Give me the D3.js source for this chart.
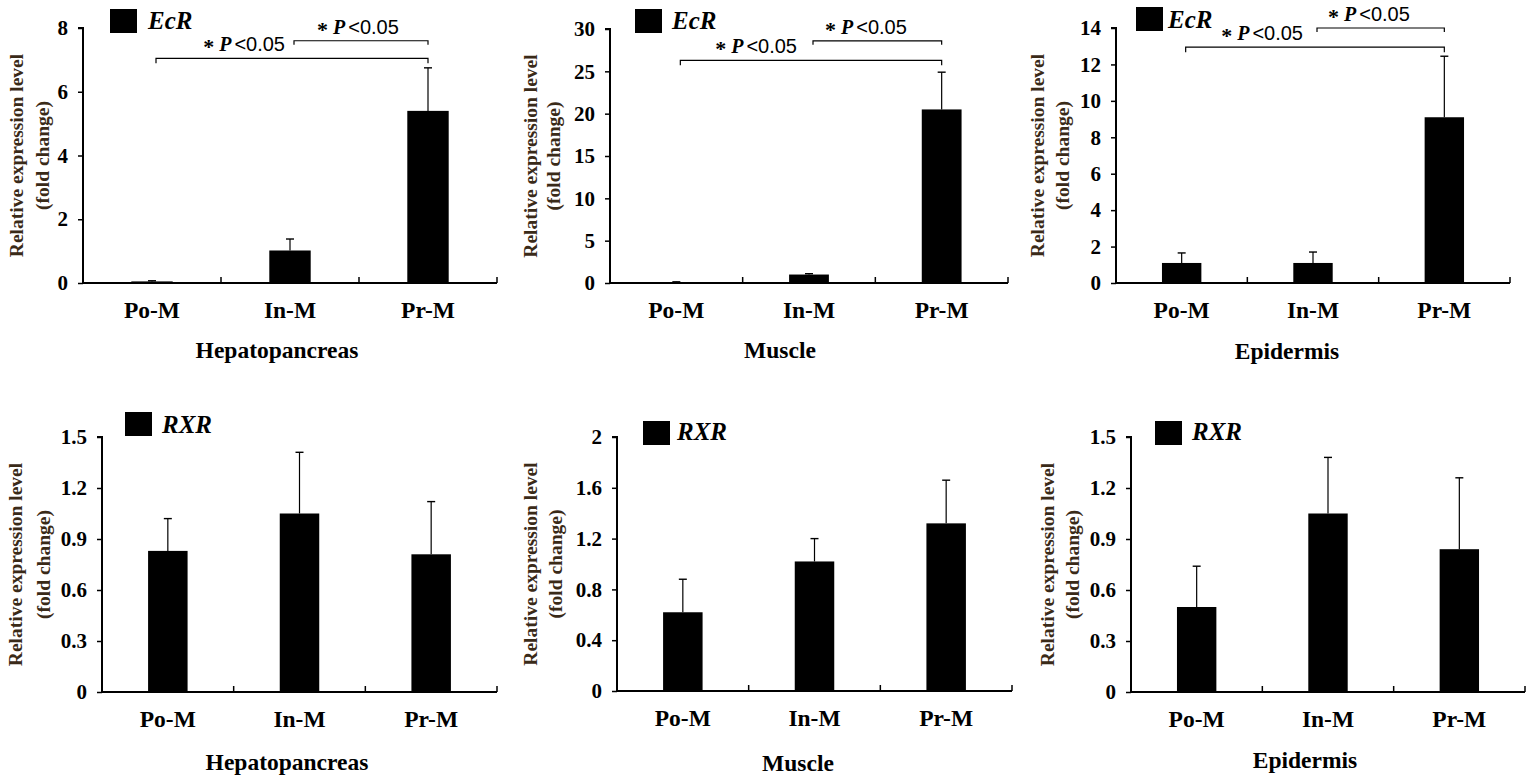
<!DOCTYPE html>
<html><head><meta charset="utf-8">
<script src="https://cdn.jsdelivr.net/npm/d3@7"></script>
<style>
html,body{margin:0;padding:0;background:#fff;}
svg{display:block;}
</style></head>
<body>
<svg id="chart" width="1535" height="784"></svg>
<script>
// ---------------- DATA ----------------
const categories = ["Po-M", "In-M", "Pr-M"];
const tissues = ["Hepatopancreas", "Muscle", "Epidermis"];
const genes = ["EcR", "RXR"];

const ecrHepatopancreas = [0.05, 1.02, 5.40];
const ecrHepatopancreasSD = [0.02, 0.36, 1.35];
const ecrMuscle = [0.10, 1.00, 20.5];
const ecrMuscleSD = [0.04, 0.10, 4.4];
const ecrEpidermis = [1.10, 1.10, 9.10];
const ecrEpidermisSD = [0.55, 0.60, 3.35];

const rxrHepatopancreas = [0.83, 1.05, 0.81];
const rxrHepatopancreasSD = [0.19, 0.36, 0.31];
const rxrMuscle = [0.62, 1.02, 1.32];
const rxrMuscleSD = [0.26, 0.18, 0.34];
const rxrEpidermis = [0.50, 1.05, 0.84];
const rxrEpidermisSD = [0.24, 0.33, 0.42];

const ticksEcrHep = [0, 2, 4, 6, 8];
const ticksEcrMus = [0, 5, 10, 15, 20, 25, 30];
const ticksEcrEpi = [0, 2, 4, 6, 8, 10, 12, 14];
const ticksRxrHep = [0, 0.3, 0.6, 0.9, 1.2, 1.5];
const ticksRxrMus = [0, 0.4, 0.8, 1.2, 1.6, 2];
const ticksRxrEpi = [0, 0.3, 0.6, 0.9, 1.2, 1.5];

// significance brackets (value level on y axis): long = Po-M vs Pr-M, short = In-M vs Pr-M
const ecrBracketLong = [7.05, 26.3, 12.95];
const ecrBracketShort = [7.6, 28.6, 14.0];
const sigStar = "*", sigP = "P", sigText = "<0.05";

const yTitle1 = "Relative expression level";
const yTitle2 = "(fold change)";

// ---------------- LAYOUT ----------------
const layout = [
  {x0: 83,  x1: 497,  yT: 28,  yB: 283, leg: [110, 9, 148, 29], yt: [16, 42],   xt: 277, xtY: 358},
  {x0: 610, x1: 1008, yT: 29,  yB: 283, leg: [635, 9, 672, 29], yt: [530, 553], xt: 780, xtY: 358},
  {x0: 1116,x1: 1510, yT: 28,  yB: 283, leg: [1136, 7, 1168, 28], yt: [1037, 1062], xt: 1287, xtY: 359},
  {x0: 102, x1: 497,  yT: 437, yB: 692, leg: [125, 412, 162, 433], yt: [15, 43], xt: 287, xtY: 770},
  {x0: 617, x1: 1012, yT: 437, yB: 691, leg: [643, 421, 677, 440], yt: [530, 555], xt: 798, xtY: 771},
  {x0: 1131,x1: 1525, yT: 437, yB: 692, leg: [1155, 421, 1192, 440], yt: [1047, 1072], xt: 1305, xtY: 768}
];
const sigOffsets = [[-5, 27], [-12, 16], [-10, 15]];

const panels = [
  {gene: genes[0], tissue: tissues[0], values: ecrHepatopancreas, sd: ecrHepatopancreasSD, ticks: ticksEcrHep, br: [ecrBracketLong[0], ecrBracketShort[0]]},
  {gene: genes[0], tissue: tissues[1], values: ecrMuscle, sd: ecrMuscleSD, ticks: ticksEcrMus, br: [ecrBracketLong[1], ecrBracketShort[1]]},
  {gene: genes[0], tissue: tissues[2], values: ecrEpidermis, sd: ecrEpidermisSD, ticks: ticksEcrEpi, br: [ecrBracketLong[2], ecrBracketShort[2]]},
  {gene: genes[1], tissue: tissues[0], values: rxrHepatopancreas, sd: rxrHepatopancreasSD, ticks: ticksRxrHep},
  {gene: genes[1], tissue: tissues[1], values: rxrMuscle, sd: rxrMuscleSD, ticks: ticksRxrMus},
  {gene: genes[1], tissue: tissues[2], values: rxrEpidermis, sd: rxrEpidermisSD, ticks: ticksRxrEpi}
];

const SERIF = "'Liberation Serif','Times New Roman',serif";
const SANS = "'Liberation Sans',Arial,sans-serif";
const svg = d3.select("#chart");

panels.forEach((p, i) => {
  const L = layout[i];
  const g = svg.append("g").attr("class", "panel");
  const x = d3.scaleBand().domain(categories).range([L.x0, L.x1]).paddingInner(0.7).paddingOuter(0.35);
  const y = d3.scaleLinear().domain([p.ticks[0], p.ticks[p.ticks.length - 1]]).range([L.yB, L.yT]);

  // bars
  g.selectAll("rect.bar").data(categories).join("rect")
    .attr("class", "bar")
    .attr("x", c => x(c)).attr("width", x.bandwidth())
    .attr("y", (c, k) => y(p.values[k]))
    .attr("height", (c, k) => y(0) - y(p.values[k]))
    .attr("fill", "#000");

  // error bars (upper only)
  categories.forEach((c, k) => {
    const cx = x(c) + x.bandwidth() / 2;
    const top = y(p.values[k] + p.sd[k]);
    g.append("line").attr("x1", cx).attr("x2", cx).attr("y1", y(p.values[k])).attr("y2", top)
      .attr("stroke", "#000").attr("stroke-width", 1.2);
    g.append("line").attr("x1", cx - 4).attr("x2", cx + 4).attr("y1", top).attr("y2", top)
      .attr("stroke", "#000").attr("stroke-width", 1.4);
  });

  // y axis
  const ya = g.append("g").attr("transform", `translate(${L.x0},0)`)
    .call(d3.axisLeft(y).tickValues(p.ticks).tickSize(5).tickPadding(10).tickFormat(d3.format("~g")));
  ya.select(".domain").attr("stroke-width", 2).attr("d", `M-5,${L.yT}H0V${L.yB}`);
  ya.selectAll(".tick line").attr("stroke-width", 1.5);
  ya.selectAll(".tick text").attr("font-family", SERIF).attr("font-weight", "bold").attr("font-size", 21).attr("fill", "#000");

  // x axis: line with upward ticks at band boundaries
  g.append("line").attr("x1", L.x0).attr("x2", L.x1).attr("y1", L.yB).attr("y2", L.yB)
    .attr("stroke", "#000").attr("stroke-width", 2);
  [1, 2, 3].forEach(m => {
    const bx = L.x0 + (L.x1 - L.x0) * m / 3;
    g.append("line").attr("x1", bx).attr("x2", bx).attr("y1", L.yB).attr("y2", L.yB - 6)
      .attr("stroke", "#000").attr("stroke-width", 1.5);
  });
  g.selectAll("text.xlab").data(categories).join("text").attr("class", "xlab")
    .attr("x", c => x(c) + x.bandwidth() / 2).attr("y", L.yB + 35)
    .attr("text-anchor", "middle").attr("font-family", SERIF).attr("font-weight", "bold")
    .attr("font-size", 23.5).text(c => c);

  // x title
  g.append("text").attr("x", L.xt).attr("y", L.xtY).attr("text-anchor", "middle")
    .attr("font-family", SERIF).attr("font-weight", "bold").attr("font-size", 23.5).text(p.tissue);

  // y title (two lines)
  const yc = (L.yT + L.yB) / 2;
  [yTitle1, yTitle2].forEach((t, k) => {
    g.append("text").attr("transform", `translate(${L.yt[k]},${yc}) rotate(-90)`)
      .attr("text-anchor", "middle").attr("dominant-baseline", "central")
      .attr("font-family", SERIF).attr("font-weight", "bold").attr("font-size", 19.5)
      .attr("fill", "#3a2a18").text(t);
  });

  // legend
  g.append("rect").attr("x", L.leg[0]).attr("y", L.leg[1]).attr("width", 27).attr("height", 24).attr("fill", "#000");
  g.append("text").attr("x", L.leg[2]).attr("y", L.leg[3]).attr("font-family", SERIF)
    .attr("font-style", "italic").attr("font-weight", "bold").attr("font-size", 25).text(p.gene);

  // significance brackets
  if (p.br) {
    const cPo = x(categories[0]) + x.bandwidth() / 2 + 4;
    const cIn = x(categories[1]) + x.bandwidth() / 2 + 4;
    const cPr = x(categories[2]) + x.bandwidth() / 2;
    const yl = y(p.br[0]), ys = y(p.br[1]);
    g.append("path").attr("d", `M${cPo},${yl + 5}V${yl}H${cPr}V${yl + 5}`)
      .attr("fill", "none").attr("stroke", "#000").attr("stroke-width", 1.2);
    g.append("path").attr("d", `M${cIn},${ys + 4}V${ys}H${cPr}V${ys + 4}`)
      .attr("fill", "none").attr("stroke", "#000").attr("stroke-width", 1.2);
    const off = sigOffsets[i];
    const addSig = (tx, ty, anchor) => {
      const t = g.append("text").attr("x", tx).attr("y", ty).attr("text-anchor", anchor).attr("font-size", 20);
      t.append("tspan").attr("font-family", SERIF).attr("font-weight", "bold").attr("font-size", 22).attr("dy", 3).text(sigStar);
      t.append("tspan").attr("font-family", SERIF).attr("font-weight", "bold").attr("font-style", "italic")
        .attr("dx", 5).attr("dy", -3).text(sigP);
      t.append("tspan").attr("font-family", SANS).attr("dx", 3).text(sigText);
    };
    addSig(cIn - 4 + off[0], yl - 7, "end");
    addSig(cIn - 4 + off[1], ys - 7, "start");
  }
});
</script>
</body></html>
